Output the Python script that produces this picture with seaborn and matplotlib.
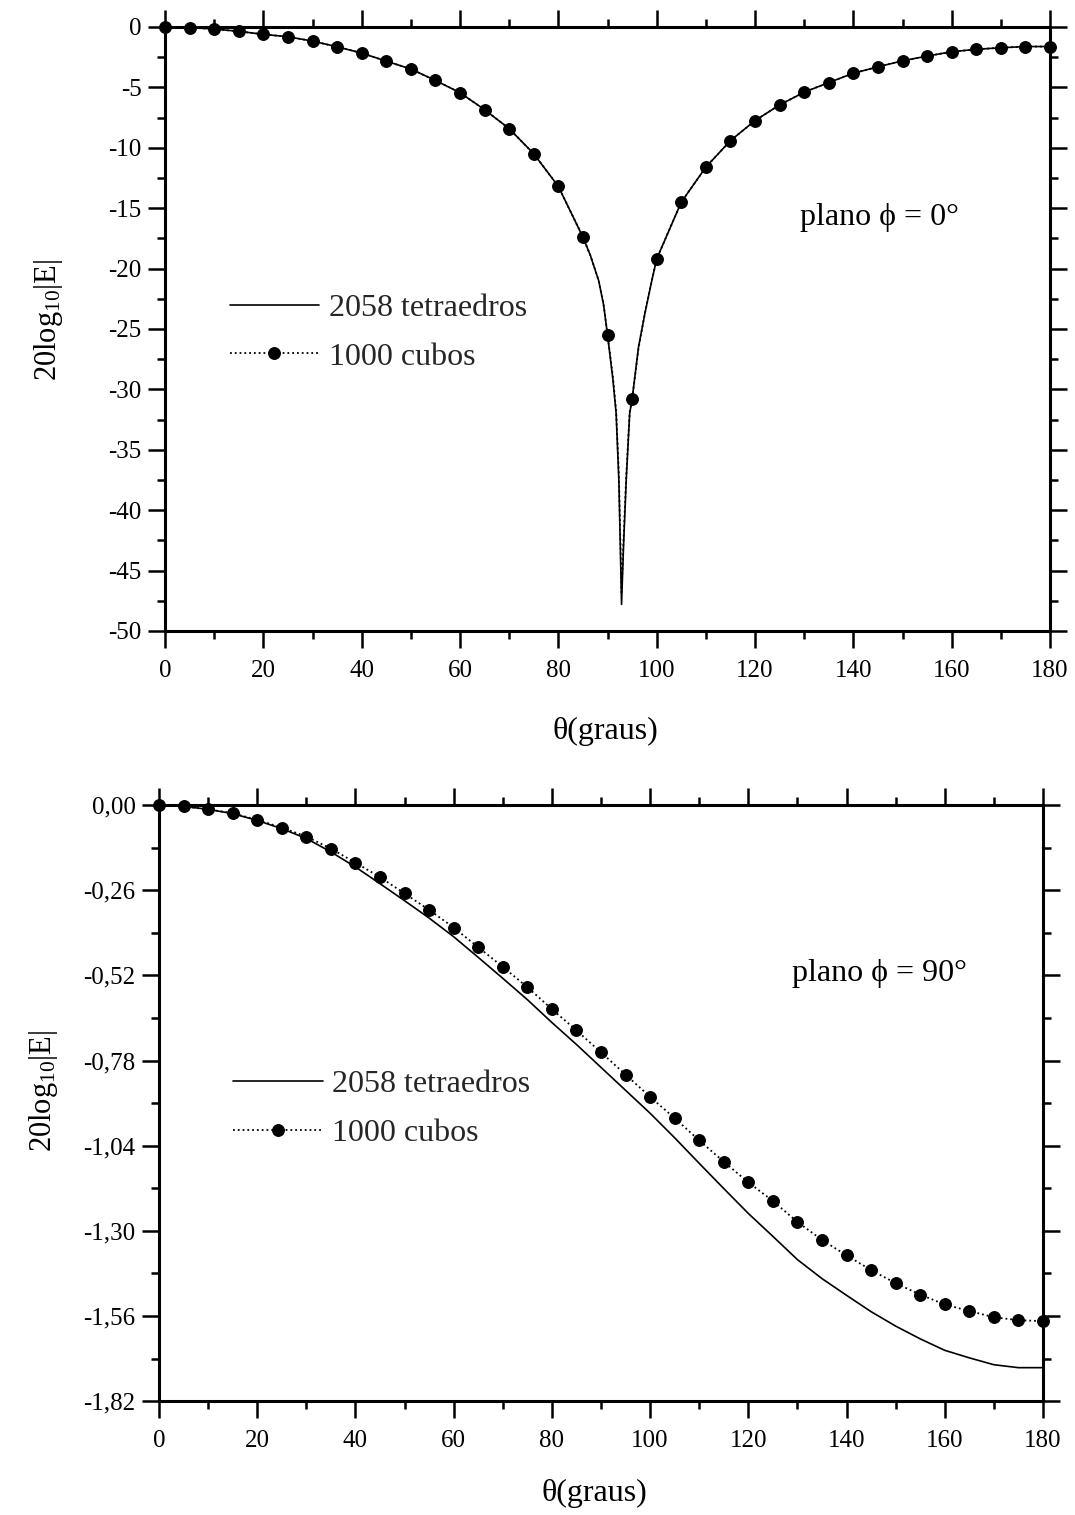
import numpy as np
import pandas as pd
import matplotlib
matplotlib.use("Agg")
import matplotlib.pyplot as plt
from matplotlib.ticker import MultipleLocator, FixedLocator, FuncFormatter
import seaborn as sns

# ---------------------------------------------------------------------------
# Far-field pattern, 20log10|E| versus theta (degrees)
# ---------------------------------------------------------------------------
theta_step = [0, 5, 10, 15, 20, 25, 30, 35, 40, 45, 50, 55, 60, 65, 70, 75, 80, 85,
              90, 95, 100, 105, 110, 115, 120, 125, 130, 135, 140, 145, 150, 155,
              160, 165, 170, 175, 180]

# plane phi = 0 deg
top_cubos = [0.0, -0.05, -0.17, -0.36, -0.61, -0.81, -1.17, -1.64, -2.16, -2.83,
             -3.48, -4.43, -5.44, -6.85, -8.42, -10.5, -13.2, -17.4, -25.5, -30.8,
             -19.2, -14.5, -11.6, -9.41, -7.75, -6.45, -5.40, -4.60, -3.83, -3.30,
             -2.80, -2.41, -2.05, -1.85, -1.72, -1.62, -1.62]
top_tetra = [0.0, -0.05, -0.17, -0.36, -0.61, -0.81, -1.17, -1.64, -2.16, -2.83,
             -3.48, -4.43, -5.44, -6.85, -8.42, -10.5, -13.2, -17.4, -25.5, -30.8,
             -19.2, -14.5, -11.6, -9.41, -7.75, -6.45, -5.40, -4.60, -3.83, -3.30,
             -2.80, -2.41, -2.05, -1.85, -1.72, -1.62, -1.62]

# extra samples around the null close to theta = 93 deg
theta_null = [86.5, 88.2, 89.2, 91.1, 91.75, 92.3, 92.6, 92.85, 93.25, 93.8, 94.5,
              96.3, 97.6, 99.0]
top_tetra_null = [-18.9, -21.0, -23.0, -29.2, -32.0, -37.5, -43.0, -47.8, -43.0,
                  -37.5, -32.0, -26.5, -23.7, -21.0]
top_cubos_null = [-18.9, -21.0, -23.0, -29.0, -31.8, -37.0, -42.5, -46.8, -42.5,
                  -37.2, -31.9, -26.6, -23.7, -21.0]

# plane phi = 90 deg
bot_cubos = [0.0, -0.004, -0.013, -0.025, -0.045, -0.069, -0.096, -0.133, -0.176,
             -0.220, -0.270, -0.320, -0.374, -0.434, -0.494, -0.556, -0.623, -0.688,
             -0.755, -0.823, -0.891, -0.956, -1.024, -1.089, -1.152, -1.209, -1.273,
             -1.328, -1.375, -1.420, -1.460, -1.495, -1.525, -1.545, -1.564, -1.573,
             -1.576]
bot_tetra = [0.0, -0.004, -0.013, -0.026, -0.047, -0.072, -0.102, -0.143, -0.189,
             -0.240, -0.292, -0.345, -0.402, -0.465, -0.529, -0.594, -0.664, -0.731,
             -0.801, -0.871, -0.941, -1.016, -1.094, -1.171, -1.247, -1.317, -1.388,
             -1.446, -1.497, -1.547, -1.591, -1.630, -1.665, -1.688, -1.709, -1.718,
             -1.718]

x_ticks = [0, 20, 40, 60, 80, 100, 120, 140, 160, 180]
top_y_ticks = [0, -5, -10, -15, -20, -25, -30, -35, -40, -45, -50]
bot_y_ticks = [0.0, -0.26, -0.52, -0.78, -1.04, -1.30, -1.56, -1.82]

label_tetra = "2058 tetraedros"
label_cubos = "1000 cubos"
x_label = "θ(graus)"
y_label = r"20log$_{\mathrm{10}}$|E|"

# ---------------------------------------------------------------------------
sns.set_theme(style="ticks")
plt.rcParams["font.family"] = ["Liberation Serif", "DejaVu Serif"]
plt.rcParams["mathtext.fontset"] = "custom"
plt.rcParams["mathtext.rm"] = "Liberation Serif"
plt.rcParams["mathtext.it"] = "Liberation Serif:italic"
plt.rcParams["axes.unicode_minus"] = False

fig = plt.figure(figsize=(10.75, 15.15), dpi=100)
ax_top = fig.add_axes([0.1535, 0.5835, 0.8233, 0.3987])
ax_bot = fig.add_axes([0.1479, 0.0752, 0.8223, 0.3934])


def series(theta, values):
    df = pd.DataFrame({"theta": theta, "db": values})
    return df.sort_values("theta").reset_index(drop=True)


def draw(ax, tetra, cubos):
    sns.lineplot(data=tetra, x="theta", y="db", ax=ax, color="black", lw=1.2,
                 errorbar=None, label=label_tetra)
    marks = [i for i, t in enumerate(cubos["theta"]) if t in theta_step]
    sns.lineplot(data=cubos, x="theta", y="db", ax=ax, color="black", lw=1.3,
                 linestyle=":", marker="o", markevery=marks, markersize=8.5,
                 markerfacecolor="black", markeredgecolor="black",
                 errorbar=None, label=label_cubos)
    for ln in ax.lines:
        ln.set_clip_on(False)


tetra_top = series(theta_step + theta_null, top_tetra + top_tetra_null)
cubos_top = series(theta_step + theta_null, top_cubos + top_cubos_null)
draw(ax_top, tetra_top, cubos_top)

tetra_bot = series(theta_step, bot_tetra)
cubos_bot = series(theta_step, bot_cubos)
draw(ax_bot, tetra_bot, cubos_bot)

ax_top.set_ylim(-50, 0)
ax_top.yaxis.set_major_locator(FixedLocator(top_y_ticks))
ax_top.yaxis.set_minor_locator(MultipleLocator(2.5))
ax_top.yaxis.set_major_formatter(FuncFormatter(lambda v, p: f"{v:.0f}"))

ax_bot.set_ylim(-1.82, 0)
ax_bot.yaxis.set_major_locator(FixedLocator(bot_y_ticks))
ax_bot.yaxis.set_minor_locator(FixedLocator([t - 0.13 for t in bot_y_ticks[:-1]]))
ax_bot.yaxis.set_major_formatter(
    FuncFormatter(lambda v, p: "0,00" if abs(v) < 1e-9 else f"{v:.2f}".replace(".", ",")))

for ax in (ax_top, ax_bot):
    ax.set_xlim(0, 180)
    ax.xaxis.set_major_locator(FixedLocator(x_ticks))
    ax.xaxis.set_minor_locator(MultipleLocator(10))
    ax.tick_params(which="both", direction="out", top=True, right=True,
                   labeltop=False, labelright=False, width=1.8, color="black",
                   labelsize=18, labelcolor="black")
    ax.tick_params(which="major", length=12)
    ax.tick_params(which="minor", length=6)
    ax.tick_params(axis="x", which="major", pad=9)
    ax.tick_params(axis="y", which="major", pad=5)
    for s in ax.spines.values():
        s.set_linewidth(2.2)
        s.set_color("black")
    ax.grid(False)
    ax.set_xlabel(x_label, fontsize=23, color="black")
    ax.set_ylabel(y_label, fontsize=22, color="black")
    ax.legend(loc="center left", frameon=False, fontsize=23, handlelength=2.8,
              handletextpad=0.3, borderpad=0, borderaxespad=0, labelspacing=0.6,
              bbox_to_anchor=(0.073 if ax is ax_top else 0.084,
                              0.494 if ax is ax_top else 0.49))

ax_top.xaxis.set_label_coords(0.497, -0.142)
ax_bot.xaxis.set_label_coords(0.493, -0.131)
ax_top.yaxis.set_label_coords(-0.113, 0.515)
ax_bot.yaxis.set_label_coords(-0.112, 0.52)

ax_top.text(0.7175, 0.684, "plano ϕ = 0°", transform=ax_top.transAxes,
            fontsize=23, va="center", ha="left", color="black")
ax_bot.text(0.716, 0.717, "plano ϕ = 90°", transform=ax_bot.transAxes,
            fontsize=23, va="center", ha="left", color="black")

fig.savefig("out.png", dpi=100, facecolor="white")
